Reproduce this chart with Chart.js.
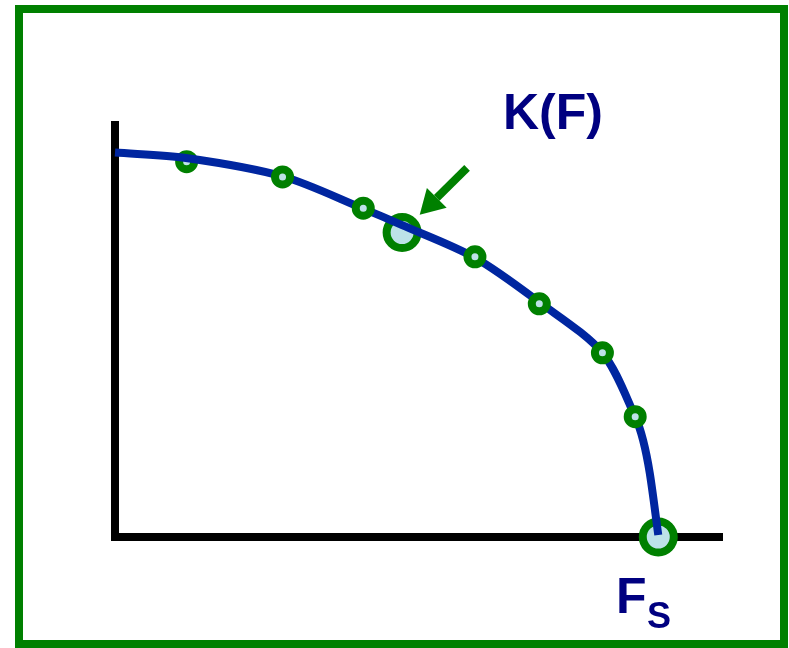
<!DOCTYPE html>
<html>
<head>
<meta charset="utf-8">
<script src="https://cdn.jsdelivr.net/npm/chart.js@4"></script>
<style>
    html, body { margin: 0; padding: 0; background: #fff; }
    #wrap { position: relative; width: 789px; height: 648px; }
    #frame {
        position: absolute; left: 15px; top: 5px;
        width: 757px; height: 627px;
        border: 8px solid #008000;
        pointer-events: none;
    }
</style>
</head>
<body>
<div id="wrap">
    <canvas id="curveChart" width="789" height="648"></canvas>
    <div id="frame"></div>
</div>
<script>
// Curve K(F) (arbitrary 0-100 units)
const curveX = [0, 11.7, 27.7, 40.9, 47.3, 59.3, 69.9, 80.3, 85.7, 87.0, 88.1, 89.5];
const curveY = [93.3, 92.0, 87.5, 79.7, 75.7, 67.8, 57.0, 44.7, 29.2, 23.5, 15.5, 0.5];

// Marked points on the curve
const markX = [11.8, 27.6, 40.9, 47.3, 59.3, 69.9, 80.3, 85.7, 89.5];
const markY = [91.1, 87.4, 79.8, 73.9, 68.0, 56.6, 44.7, 29.2, 0];
const markBig = [false, false, false, true, false, false, false, false, true];
// which markers sit underneath the curve
const markUnder = [true, false, false, true, false, false, false, false, true];

const curveData = curveX.map((x, i) => ({ x: x, y: curveY[i] }));
const markData = markX.map((x, i) => ({ x: x, y: markY[i] }));

const GREEN = "#008000";
const NAVY = "#000080";
const FILL = "#bde2e8";

const markRadius = (under) =>
    markBig.map((b, i) => (markUnder[i] === under ? (b ? 15.5 : 7.5) : 0));

// Arrow and labels drawn on top, positioned through the scales
const annotations = {
    id: "annotations",
    afterDraw(chart) {
        const ctx = chart.ctx;
        const xs = chart.scales.x;
        const ys = chart.scales.y;
        // arrow pointing at the big marker
        const x0 = xs.getPixelForValue(58.0), y0 = ys.getPixelForValue(89.6);
        const x1 = xs.getPixelForValue(50.2), y1 = ys.getPixelForValue(78.2);
        const ang = Math.atan2(y1 - y0, x1 - x0);
        const headLen = 24, headW = 14;
        const bx = x1 - headLen * Math.cos(ang), by = y1 - headLen * Math.sin(ang);
        ctx.save();
        ctx.strokeStyle = GREEN;
        ctx.fillStyle = GREEN;
        ctx.lineWidth = 8;
        ctx.beginPath();
        ctx.moveTo(x0, y0);
        ctx.lineTo(bx, by);
        ctx.stroke();
        ctx.beginPath();
        ctx.moveTo(x1, y1);
        ctx.lineTo(bx + headW * Math.sin(ang), by - headW * Math.cos(ang));
        ctx.lineTo(bx - headW * Math.sin(ang), by + headW * Math.cos(ang));
        ctx.closePath();
        ctx.fill();

        // labels
        ctx.fillStyle = NAVY;
        ctx.textBaseline = "alphabetic";
        ctx.font = "bold 50px 'Liberation Sans', Arial, sans-serif";
        ctx.fillText("K(F)", 503, 129);
        ctx.fillText("F", 616, 613);
        ctx.font = "bold 36px 'Liberation Sans', Arial, sans-serif";
        ctx.fillText("S", 647, 628);
        ctx.restore();
    },
};

const curveChart = new Chart(document.getElementById("curveChart"), {
    type: "scatter",
    data: {
        datasets: [
            {
                // markers drawn over the curve
                data: markData,
                order: 0,
                clip: false,
                showLine: false,
                backgroundColor: FILL,
                borderColor: GREEN,
                pointBorderWidth: 8,
                pointRadius: markRadius(false),
            },
            {
                // the curve
                data: curveData,
                order: 1,
                clip: false,
                showLine: true,
                borderColor: "#0026a0",
                borderWidth: 8,
                tension: 0.3,
                pointRadius: 0,
                borderCapStyle: "butt",
            },
            {
                // markers lying under the curve
                data: markData,
                order: 2,
                clip: false,
                showLine: false,
                backgroundColor: FILL,
                borderColor: GREEN,
                pointBorderWidth: 8,
                pointRadius: markRadius(true),
            },
        ],
    },
    options: {
        responsive: false,
        animation: false,
        layout: {
            padding: { left: 115, right: 67, top: 125, bottom: 111 },
        },
        scales: {
            x: {
                type: "linear",
                min: 0,
                max: 100,
                grid: { display: false },
                ticks: { display: false },
                border: { display: true, color: "#000", width: 8 },
                afterFit: (s) => { s.height = 0; },
            },
            y: {
                type: "linear",
                min: 0,
                max: 100,
                grid: { display: false },
                ticks: { display: false },
                border: { display: true, color: "#000", width: 8 },
                afterFit: (s) => { s.width = 0; },
            },
        },
        plugins: {
            legend: { display: false },
            tooltip: { enabled: false },
        },
    },
    plugins: [annotations],
});
</script>
</body>
</html>
